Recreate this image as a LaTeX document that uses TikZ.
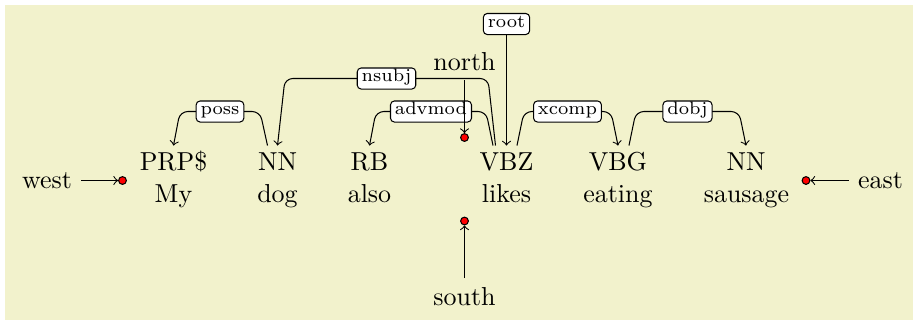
\documentclass[tikz,border=0pt]{standalone}
\usetikzlibrary{calc}
\definecolor{bgyel}{RGB}{242,242,204}
\begin{document}
\begin{tikzpicture}[x=0.385pt,y=-0.385pt,
  tag/.style={anchor=base,text height=6.83pt,inner sep=2.4pt},
  word/.style={anchor=base,inner sep=0pt},
  lab/.style={draw,fill=white,rounded corners=1.5pt,font=\scriptsize,text height=3.6pt,text depth=1.1pt,inner sep=1.7pt},
  dep/.style={->,rounded corners=3pt},
  rdot/.style={circle,draw,fill=red,inner sep=0pt,minimum size=3pt}]
\useasboundingbox (0,0) rectangle (913,320);
\fill[bgyel] (5,5) rectangle (913,320);
% tags
\node[tag] (t1) at (173.5,170) {PRP\$};
\node[tag] (t2) at (277.5,170) {NN};
\node[tag] (t3) at (369.5,170) {RB};
\node[tag] (t4) at (506.5,170) {VBZ};
\node[tag] (t5) at (618,170) {VBG};
\node[tag] (t6) at (746,170) {NN};
% words
\node[word] (w1) at (173.5,202.5) {My};
\node[word] (w2) at (277.5,202.5) {dog};
\node[word] (w3) at (369.5,202.5) {also};
\node[word] (w4) at (506.5,202.5) {likes};
\node[word] (w5) at (618,202.5) {eating};
\node[word] (w6) at (746.5,202.5) {sausage};
% edges
\draw[dep] ($(t2.north)+(-10,0)$) -- (260,111.5) -- node[lab]{poss} (180,111.5) -- (t1.north);
\draw[dep] ($(t4.north)+(-11,0)$) -- (488,78.5) -- node[lab]{nsubj} (285,78.5) -- (t2.north);
\draw[dep] ($(t4.north)+(-13.5,0)$) -- (486,111.5) -- node[lab]{advmod} (376,111.5) -- (t3.north);
\draw[dep] ($(t4.north)+(10.5,0)$) -- (524,111.5) -- node[lab]{xcomp} (611,111.5) -- (t5.north);
\draw[dep] ($(t5.north)+(11,0)$) -- (636,111.5) -- node[lab]{dobj} (739,111.5) -- (t6.north);
\node[lab] (root) at (506.5,24) {root};
\draw[->] (root) -- (t4.north);
% anchors
\node[rdot] (wdot) at (122.5,180.5) {};
\node[rdot] (edot) at (806,180.5) {};
\node[rdot] (ndot) at (464.5,137.5) {};
\node[rdot] (sdot) at (464.5,221) {};
\node (wlbl) at (47,180.5) {west};
\node (elbl) at (880.5,180.5) {east};
\node[anchor=south] (nlbl) at (464.5,80) {north};
\node[anchor=north] (slbl) at (464.5,278) {south};
\draw[->] (wlbl) -- (wdot);
\draw[->] (elbl) -- (edot);
\draw[->] (nlbl) -- (ndot);
\draw[->] (slbl) -- (sdot);
\end{tikzpicture}
\end{document}
